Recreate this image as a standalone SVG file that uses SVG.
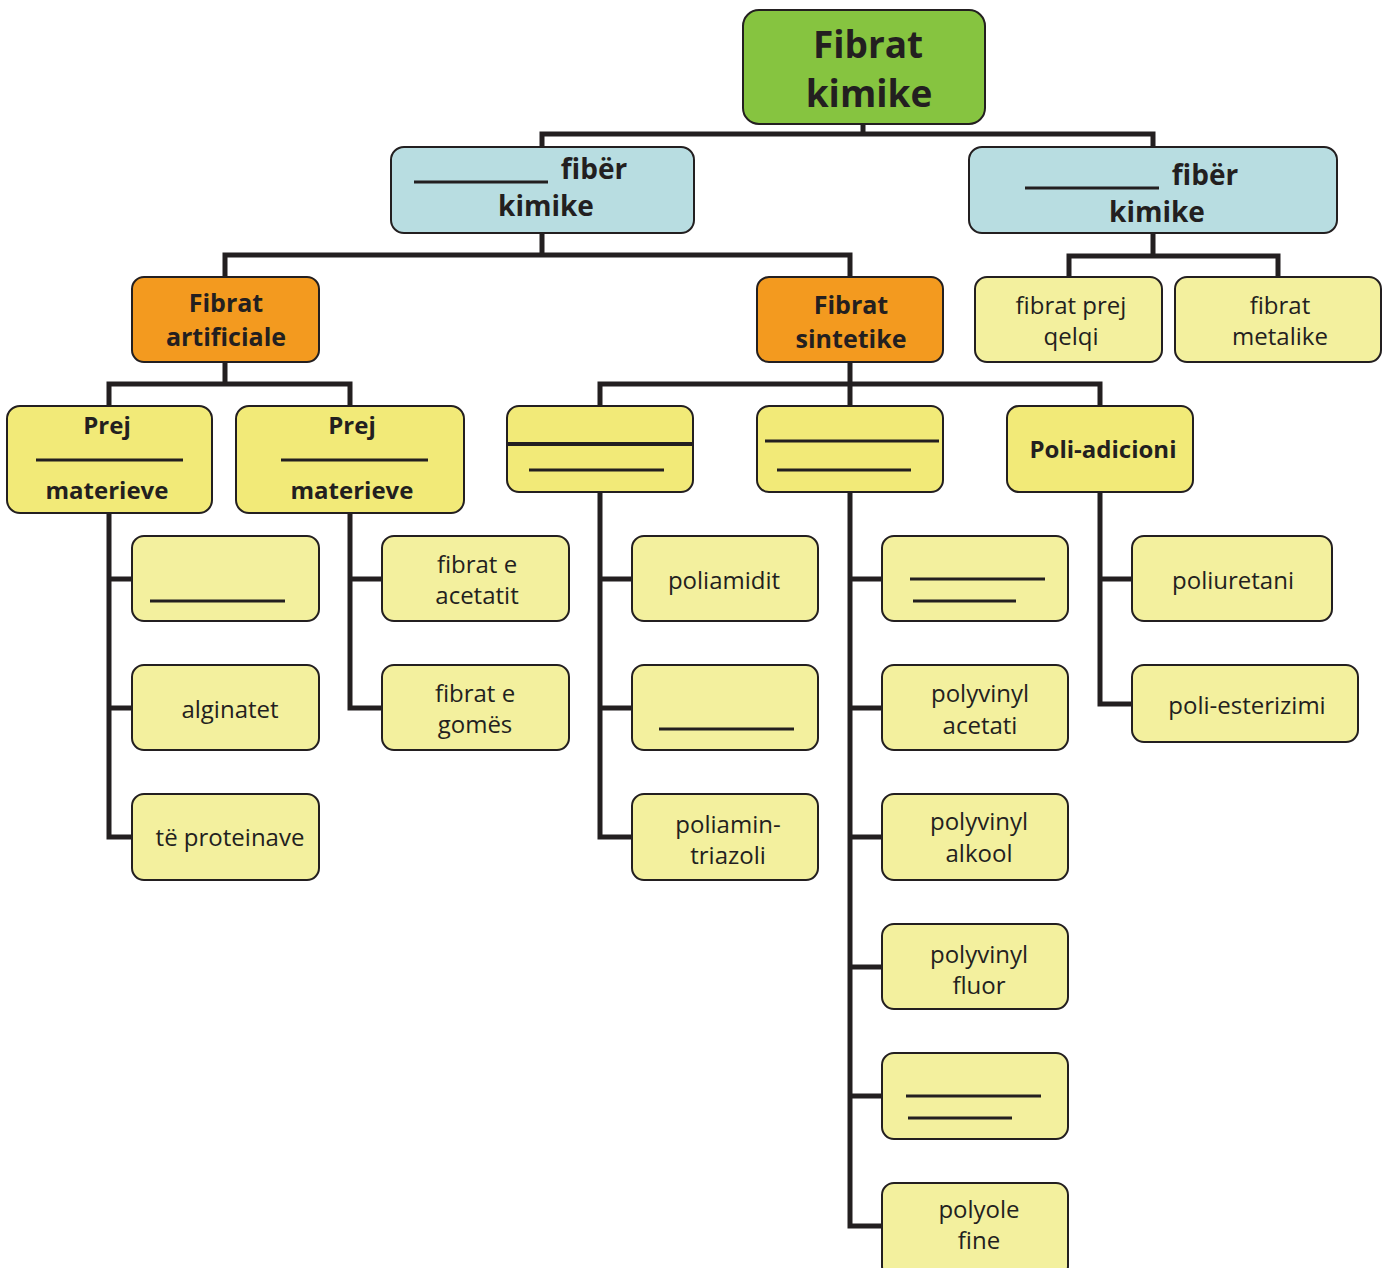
<svg xmlns="http://www.w3.org/2000/svg" width="1394" height="1268" viewBox="0 0 1394 1268">
<style>
.box{stroke:#231f20;stroke-width:2}
.green{fill:#86c440}
.blue{fill:#b8dde1}
.orange{fill:#f39a1f}
.bright{fill:#f2ea78}
.pale{fill:#f3f09e}
.t{font-family:"Open Sans","Liberation Sans",sans-serif;fill:#231f20;text-anchor:middle}
.b{font-weight:bold}
.r{font-size:24px}
.ln{stroke:#231f20;stroke-width:3;fill:none}
#connectors path{stroke:#231f20;stroke-width:5;fill:none;stroke-linejoin:miter}
</style>
<rect width="1394" height="1268" fill="#ffffff"/>
<g id="connectors">
<path d="M863 124V134M542 147V134H1153V147"/>
<path d="M542 233V255M225 277V255H850V277"/>
<path d="M1153 233V256M1069 277V256H1278V277"/>
<path d="M225 362V384M109 406V384H350V406"/>
<path d="M850 362V384M600 406V384H1100V406M850 384V406"/>
<path d="M109 513V837H132M109 579H132M109 708H132"/>
<path d="M350 513V708H382M350 579H382"/>
<path d="M600 492V837H632M600 579H632M600 708H632"/>
<path d="M850 492V1226H882M850 579H882M850 708H882M850 837H882M850 967H882M850 1096H882"/>
<path d="M1100 492V704H1132M1100 579H1132"/>
</g>
<g id="root"><rect class="box green" x="743" y="10" width="242" height="114" rx="16"/>
<text class="t b" x="868" y="58" font-size="37">Fibrat</text><text class="t b" x="869" y="107" font-size="37">kimike</text></g>
<g id="blue-left"><rect class="box blue" x="391" y="147" width="303" height="86" rx="13"/>
<line class="ln" x1="414" y1="182" x2="548" y2="182"/>
<text class="t b" x="594" y="179" font-size="28">fibër</text><text class="t b" x="546" y="216" font-size="28">kimike</text></g>
<g id="blue-right"><rect class="box blue" x="969" y="147" width="368" height="86" rx="13"/>
<line class="ln" x1="1025" y1="188" x2="1159" y2="188"/>
<text class="t b" x="1205" y="185" font-size="28">fibër</text><text class="t b" x="1157" y="222" font-size="28">kimike</text></g>
<g id="orange-left"><rect class="box orange" x="132" y="277" width="187" height="85" rx="12"/>
<text class="t b" x="226" y="312" font-size="25">Fibrat</text><text class="t b" x="226" y="346" font-size="25">artificiale</text></g>
<g id="orange-right"><rect class="box orange" x="757" y="277" width="186" height="85" rx="12"/>
<text class="t b" x="851" y="314" font-size="25">Fibrat</text><text class="t b" x="851" y="348" font-size="25">sintetike</text></g>
<g id="qelqi"><rect class="box pale" x="975" y="277" width="187" height="85" rx="12"/>
<text class="t r" x="1071" y="314">fibrat prej</text><text class="t r" x="1071" y="345">qelqi</text></g>
<g id="metalike"><rect class="box pale" x="1175" y="277" width="206" height="85" rx="12"/>
<text class="t r" x="1280" y="314">fibrat</text><text class="t r" x="1280" y="345">metalike</text></g>
<g id="prej-left"><rect class="box bright" x="7" y="406" width="205" height="107" rx="13"/>
<text class="t b r" x="107" y="434">Prej</text><line class="ln" x1="36" y1="460" x2="183" y2="460"/><text class="t b r" x="107" y="499">materieve</text></g>
<g id="prej-right"><rect class="box bright" x="236" y="406" width="228" height="107" rx="13"/>
<text class="t b r" x="352" y="434">Prej</text><line class="ln" x1="281" y1="460" x2="428" y2="460"/><text class="t b r" x="352" y="499">materieve</text></g>
<g id="blank-a"><rect class="box bright" x="507" y="406" width="186" height="86" rx="12"/>
<line x1="508" y1="444" x2="692" y2="444" stroke="#231f20" stroke-width="4"/><line class="ln" x1="529" y1="470" x2="664" y2="470" stroke-width="2"/></g>
<g id="blank-b"><rect class="box bright" x="757" y="406" width="186" height="86" rx="12"/>
<line class="ln" x1="765" y1="441" x2="939" y2="441"/><line class="ln" x1="777" y1="470" x2="911" y2="470"/></g>
<g id="poli-adicioni"><rect class="box bright" x="1007" y="406" width="186" height="86" rx="12"/>
<text class="t b r" x="1103" y="458">Poli-adicioni</text></g>
<g id="blank-c"><rect class="box pale" x="132" y="536" width="187" height="85" rx="12"/><line class="ln" x1="150" y1="601" x2="285" y2="601"/></g>
<g id="alginatet"><rect class="box pale" x="132" y="665" width="187" height="85" rx="12"/><text class="t r" x="230" y="718">alginatet</text></g>
<g id="proteinave"><rect class="box pale" x="132" y="794" width="187" height="86" rx="12"/><text class="t r" x="230" y="846">të proteinave</text></g>
<g id="acetatit"><rect class="box pale" x="382" y="536" width="187" height="85" rx="12"/><text class="t r" x="477" y="573">fibrat e</text><text class="t r" x="477" y="604">acetatit</text></g>
<g id="gomes"><rect class="box pale" x="382" y="665" width="187" height="85" rx="12"/><text class="t r" x="475" y="702">fibrat e</text><text class="t r" x="475" y="733">gomës</text></g>
<g id="poliamidit"><rect class="box pale" x="632" y="536" width="186" height="85" rx="12"/><text class="t r" x="724" y="589">poliamidit</text></g>
<g id="blank-d"><rect class="box pale" x="632" y="665" width="186" height="85" rx="12"/><line class="ln" x1="659" y1="729" x2="794" y2="729"/></g>
<g id="triazoli"><rect class="box pale" x="632" y="794" width="186" height="86" rx="12"/><text class="t r" x="728" y="833">poliamin-</text><text class="t r" x="728" y="864">triazoli</text></g>
<g id="blank-e"><rect class="box pale" x="882" y="536" width="186" height="85" rx="12"/><line class="ln" x1="910" y1="579" x2="1045" y2="579"/><line class="ln" x1="913" y1="601" x2="1016" y2="601"/></g>
<g id="pv-acetati"><rect class="box pale" x="882" y="665" width="186" height="85" rx="12"/><text class="t r" x="980" y="702">polyvinyl</text><text class="t r" x="980" y="734">acetati</text></g>
<g id="pv-alkool"><rect class="box pale" x="882" y="794" width="186" height="86" rx="12"/><text class="t r" x="979" y="830">polyvinyl</text><text class="t r" x="979" y="862">alkool</text></g>
<g id="pv-fluor"><rect class="box pale" x="882" y="924" width="186" height="85" rx="12"/><text class="t r" x="979" y="963">polyvinyl</text><text class="t r" x="979" y="994">fluor</text></g>
<g id="blank-f"><rect class="box pale" x="882" y="1053" width="186" height="86" rx="12"/><line class="ln" x1="906" y1="1096" x2="1041" y2="1096"/><line class="ln" x1="908" y1="1118" x2="1012" y2="1118"/></g>
<g id="polyole"><rect class="box pale" x="882" y="1183" width="186" height="95" rx="12"/><text class="t r" x="979" y="1218">polyole</text><text class="t r" x="979" y="1249">fine</text></g>
<g id="poliuretani"><rect class="box pale" x="1132" y="536" width="200" height="85" rx="12"/><text class="t r" x="1233" y="589">poliuretani</text></g>
<g id="esterizimi"><rect class="box pale" x="1132" y="665" width="226" height="77" rx="12"/><text class="t r" x="1247" y="714">poli-esterizimi</text></g>
</svg>
